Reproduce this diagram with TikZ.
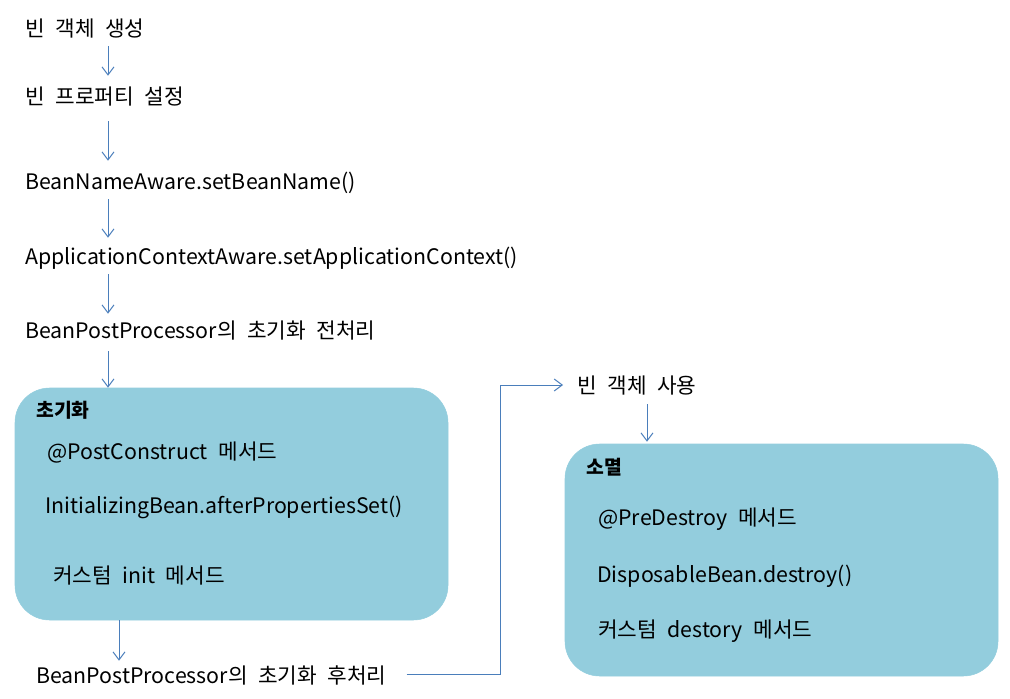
\documentclass[tikz,border=0pt]{standalone}
\usepackage{fontspec}
\setmainfont{Noto Sans CJK KR}[WordSpace=2.2]
\usetikzlibrary{arrows.meta,calc}
\definecolor{boxfill}{HTML}{93CDDD}
\definecolor{arrc}{HTML}{4A7EBB}
\begin{document}
\begin{tikzpicture}[x=0.75pt,y=-0.75pt,
  txt/.style={anchor=west,inner sep=0pt,text height=12pt,text depth=3pt,font=\fontsize{16}{19}\selectfont},
  ttl/.style={txt,font=\fontsize{14.5}{17}\selectfont\bfseries},
  box/.style={fill=boxfill,draw=boxfill,rounded corners=26pt,inner sep=0pt},
  arr/.style={draw=arrc,line width=0.75pt,-{Straight Barb[length=6pt,width=9pt]}}]
\useasboundingbox (0,0) rectangle (1010,699);
% boxes
\node[box,minimum width=324.75pt,minimum height=174pt] (b1) at (231.5,504) {};
\node[box,minimum width=324.75pt,minimum height=174pt] (b2) at (781.5,560) {};
% texts
\node[txt] (t1) at (25,31) {빈 객체 생성};
\node[txt] (t2) at (25,98) {빈 프로퍼티 설정};
\node[txt] (t3) at (25,183) {BeanNameAware.setBeanName()};
\node[txt] (t4) at (25,258) {ApplicationContextAware.setApplicationContext()};
\node[txt] (t5) at (25,332) {BeanPostProcessor의 초기화 전처리};
\node[ttl] (l1) at (36,411) {초기화};
\node[txt] (i1) at (47,453) {@PostConstruct 메서드};
\node[txt] (i2) at (45,507) {InitializingBean.afterPropertiesSet()};
\node[txt] (i3) at (53,577) {커스텀 init 메서드};
\node[txt] (t6) at (36,677) {BeanPostProcessor의 초기화 후처리};
\node[txt] (t7) at (577,387) {빈 객체 사용};
\node[ttl] (l2) at (586,468) {소멸};
\node[txt] (d1) at (598,519) {@PreDestroy 메서드};
\node[txt] (d2) at (597,576) {DisposableBean.destroy()};
\node[txt] (d3) at (598,631) {커스텀 destory 메서드};
% arrow columns
\coordinate (ax) at (108,0);
\coordinate (bx) at (119,0);
\coordinate (cx) at (647,0);
\draw[arr] ($(ax |- t1.south)+(0,5)$) -- ($(ax |- t2.north)+(0,-12)$);
\draw[arr] ($(ax |- t2.south)+(0,13)$) -- ($(ax |- t3.north)+(0,-12)$);
\draw[arr] ($(ax |- t3.south)+(0,6)$) -- ($(ax |- t4.north)+(0,-10)$);
\draw[arr] ($(ax |- t4.south)+(0,6)$) -- ($(ax |- t5.north)+(0,-8)$);
\draw[arr] ($(ax |- t5.south)+(0,9)$) -- (ax |- b1.north);
\draw[arr] (bx |- b1.south) -- ($(bx |- t6.north)+(0,-6)$);
\draw[arr] ($(t6.east)+(20,-3)$) -| ($(t7.west)+(-77,-2)$) -- ($(t7.west)+(-14,-2)$);
\draw[arr] ($(cx |- t7.south)+(0,7)$) -- ($(cx |- b2.north)+(0,-2)$);
\end{tikzpicture}
\end{document}
